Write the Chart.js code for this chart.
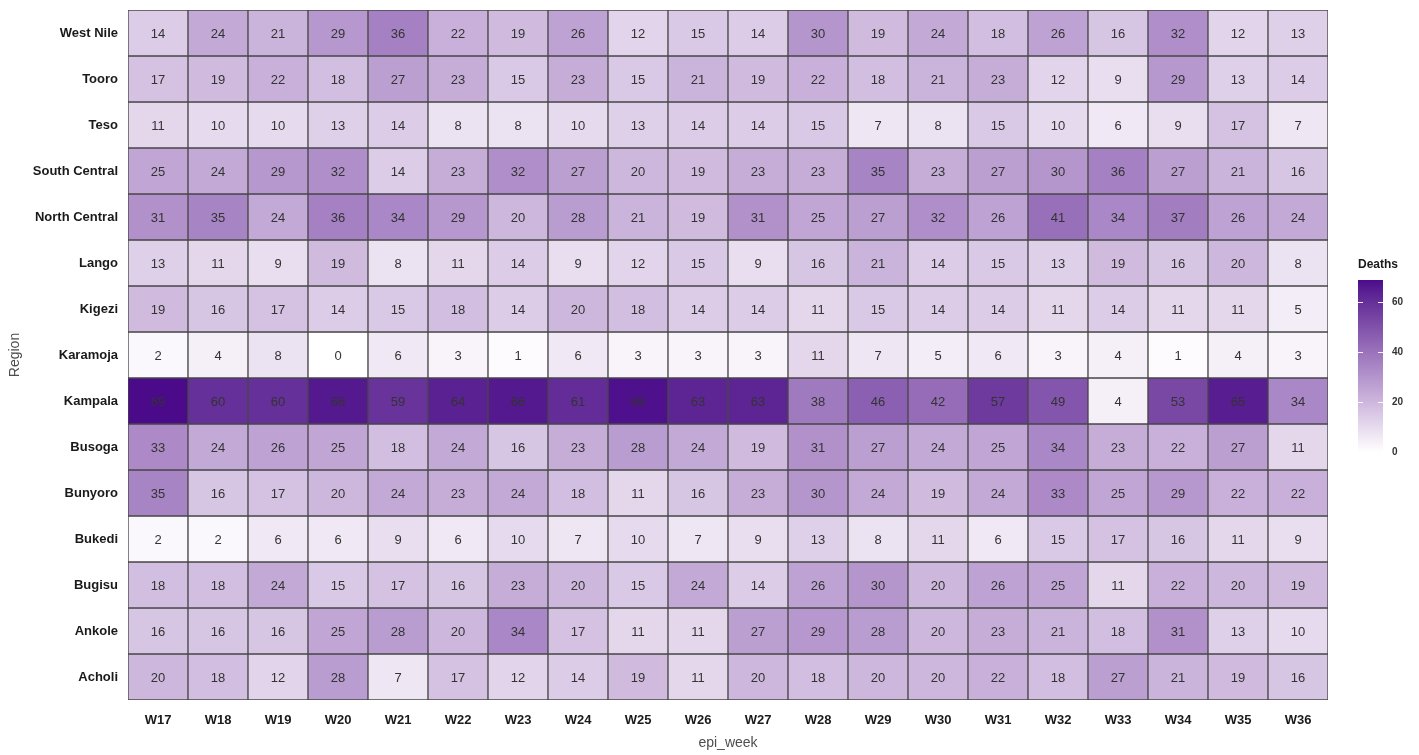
<!DOCTYPE html>
<html>
<head>
<meta charset="utf-8">
<title>Deaths by region and epi week</title>
<script src="https://cdn.jsdelivr.net/npm/chart.js@4.4.1/dist/chart.umd.min.js"></script>
<style>
  html, body { margin: 0; padding: 0; background: #ffffff; }
  #wrap { width: 1419px; height: 755px; position: relative; }
</style>
</head>
<body>
<div id="wrap"><canvas id="heat" width="1419" height="755"></canvas></div>
<script>
// Epi weeks along the x axis
const weeks = ['W17','W18','W19','W20','W21','W22','W23','W24','W25','W26',
               'W27','W28','W29','W30','W31','W32','W33','W34','W35','W36'];

// Regions, listed top to bottom
const regions = ['West Nile','Tooro','Teso','South Central','North Central','Lango','Kigezi',
                 'Karamoja','Kampala','Busoga','Bunyoro','Bukedi','Bugisu','Ankole','Acholi'];

// Weekly deaths per region (W17 ... W36)
const westNile     = [14,24,21,29,36,22,19,26,12,15,14,30,19,24,18,26,16,32,12,13];
const tooro        = [17,19,22,18,27,23,15,23,15,21,19,22,18,21,23,12,9,29,13,14];
const teso         = [11,10,10,13,14,8,8,10,13,14,14,15,7,8,15,10,6,9,17,7];
const southCentral = [25,24,29,32,14,23,32,27,20,19,23,23,35,23,27,30,36,27,21,16];
const northCentral = [31,35,24,36,34,29,20,28,21,19,31,25,27,32,26,41,34,37,26,24];
const lango        = [13,11,9,19,8,11,14,9,12,15,9,16,21,14,15,13,19,16,20,8];
const kigezi       = [19,16,17,14,15,18,14,20,18,14,14,11,15,14,14,11,14,11,11,5];
const karamoja     = [2,4,8,0,6,3,1,6,3,3,3,11,7,5,6,3,4,1,4,3];
const kampala      = [69,60,60,66,59,64,66,61,68,63,63,38,46,42,57,49,4,53,65,34];
const busoga       = [33,24,26,25,18,24,16,23,28,24,19,31,27,24,25,34,23,22,27,11];
const bunyoro      = [35,16,17,20,24,23,24,18,11,16,23,30,24,19,24,33,25,29,22,22];
const bukedi       = [2,2,6,6,9,6,10,7,10,7,9,13,8,11,6,15,17,16,11,9];
const bugisu       = [18,18,24,15,17,16,23,20,15,24,14,26,30,20,26,25,11,22,20,19];
const ankole       = [16,16,16,25,28,20,34,17,11,11,27,29,28,20,23,21,18,31,13,10];
const acholi       = [20,18,12,28,7,17,12,14,19,11,20,18,20,20,22,18,27,21,19,16];

const deathsByRegion = [westNile, tooro, teso, southCentral, northCentral, lango, kigezi,
                        karamoja, kampala, busoga, bunyoro, bukedi, bugisu, ankole, acholi];

// Colour bar tick values
const legendTicks = [0, 20, 40, 60];

// ---- fill scale: white -> deep purple, interpolated in CIELAB ----
const FILL_LOW = '#FFFFFF';
const FILL_HIGH = '#4B0A8A';
const allValues = deathsByRegion.flat();
const valueMin = Math.min(...allValues);
const valueMax = Math.max(...allValues);

function hexToRgb(h) {
  const n = parseInt(h.slice(1), 16);
  return [(n >> 16) & 255, (n >> 8) & 255, n & 255];
}
function srgbToLin(c) { c /= 255; return c <= 0.04045 ? c / 12.92 : Math.pow((c + 0.055) / 1.055, 2.4); }
function linToSrgb(c) {
  const v = c <= 0.0031308 ? 12.92 * c : 1.055 * Math.pow(c, 1 / 2.4) - 0.055;
  return Math.max(0, Math.min(255, Math.round(v * 255)));
}
const WX = 0.95047, WY = 1.0, WZ = 1.08883;
function fLab(t) { return t > 0.008856 ? Math.cbrt(t) : 7.787 * t + 16 / 116; }
function fInv(t) { return t > 0.206893 ? t * t * t : (t - 16 / 116) / 7.787; }
function rgbToLab(rgb) {
  const [r, g, b] = rgb.map(srgbToLin);
  const x = (0.4124 * r + 0.3576 * g + 0.1805 * b) / WX;
  const y = (0.2126 * r + 0.7152 * g + 0.0722 * b) / WY;
  const z = (0.0193 * r + 0.1192 * g + 0.9505 * b) / WZ;
  const fx = fLab(x), fy = fLab(y), fz = fLab(z);
  return [116 * fy - 16, 500 * (fx - fy), 200 * (fy - fz)];
}
function labToRgb(lab) {
  const fy = (lab[0] + 16) / 116, fx = fy + lab[1] / 500, fz = fy - lab[2] / 200;
  const x = fInv(fx) * WX, y = fInv(fy) * WY, z = fInv(fz) * WZ;
  const r = 3.2406 * x - 1.5372 * y - 0.4986 * z;
  const g = -0.9689 * x + 1.8758 * y + 0.0415 * z;
  const b = 0.0557 * x - 0.2040 * y + 1.0570 * z;
  return [linToSrgb(r), linToSrgb(g), linToSrgb(b)];
}
const labLow = rgbToLab(hexToRgb(FILL_LOW));
const labHigh = rgbToLab(hexToRgb(FILL_HIGH));
function fillFor(v) {
  const t = Math.max(0, Math.min(1, (v - valueMin) / (valueMax - valueMin)));
  const lab = labLow.map((c, i) => c + (labHigh[i] - c) * t);
  const [r, g, b] = labToRgb(lab);
  return `rgb(${r},${g},${b})`;
}

const FONT = '"Liberation Sans", Arial, Helvetica, sans-serif';
Chart.defaults.font.family = FONT;

// One dataset per region: each week is a floating bar covering that region's row
const datasets = regions.map((name, r) => ({
  label: name,
  data: weeks.map(() => [r, r + 1]),
  deaths: deathsByRegion[r],
  backgroundColor: deathsByRegion[r].map(fillFor),
  borderColor: '#474747',
  borderWidth: 1,
  borderSkipped: false,
  grouped: false,
  barPercentage: 1,
  categoryPercentage: 1,
  yAxisID: 'y'
}));

// Writes the death count in the middle of each tile
const cellLabels = {
  id: 'cellLabels',
  afterDatasetsDraw(chart) {
    const ctx = chart.ctx;
    ctx.save();
    ctx.font = `13px ${FONT}`;
    ctx.fillStyle = '#333333';
    ctx.textAlign = 'center';
    ctx.textBaseline = 'middle';
    chart.data.datasets.forEach((ds, di) => {
      const meta = chart.getDatasetMeta(di);
      meta.data.forEach((bar, i) => {
        ctx.fillText(String(ds.deaths[i]), bar.x, (bar.y + bar.base) / 2 + 1);
      });
    });
    ctx.restore();
  }
};

// Continuous colour bar legend on the right
const colorBar = {
  id: 'colorBar',
  afterDraw(chart) {
    const ctx = chart.ctx;
    const x0 = 1358, w = 25;
    const yTop = 280, yBottom = 452;
    const toY = v => yBottom - (v - valueMin) / (valueMax - valueMin) * (yBottom - yTop);
    ctx.save();
    for (let y = yTop; y < yBottom; y++) {
      const v = valueMin + (yBottom - y - 0.5) / (yBottom - yTop) * (valueMax - valueMin);
      ctx.fillStyle = fillFor(v);
      ctx.fillRect(x0, y, w, 1);
    }
    ctx.strokeStyle = 'rgba(255,255,255,0.9)';
    ctx.lineWidth = 1;
    ctx.font = `bold 10px ${FONT}`;
    ctx.fillStyle = '#333333';
    ctx.textAlign = 'left';
    ctx.textBaseline = 'middle';
    legendTicks.forEach(t => {
      const y = Math.round(toY(t)) + 0.5;
      ctx.beginPath();
      ctx.moveTo(x0, y); ctx.lineTo(x0 + 5, y);
      ctx.moveTo(x0 + w - 5, y); ctx.lineTo(x0 + w, y);
      ctx.stroke();
      ctx.fillText(String(t), x0 + w + 9, y);
    });
    ctx.font = `bold 12px ${FONT}`;
    ctx.fillStyle = '#1a1a1a';
    ctx.fillText('Deaths', x0, 265);
    ctx.restore();
  }
};

new Chart(document.getElementById('heat'), {
  type: 'bar',
  data: { labels: weeks, datasets },
  options: {
    responsive: false,
    animation: false,
    events: [],
    layout: { padding: { top: 10, right: 91, left: 0, bottom: 0 } },
    plugins: { legend: { display: false }, tooltip: { enabled: false } },
    scales: {
      x: {
        type: 'category',
        offset: true,
        grid: { display: false, drawTicks: false },
        border: { display: false },
        ticks: { padding: 13, color: '#1a1a1a', font: { size: 13, weight: 'bold' }, autoSkip: false, maxRotation: 0 },
        title: { display: true, text: 'epi_week', color: '#4d4d4d', font: { size: 14 }, padding: { top: 0, bottom: 3 } },
        afterFit(scale) { scale.height = 55; scale.paddingLeft = 0; scale.paddingRight = 0; }
      },
      y: {
        type: 'linear',
        reverse: true,
        min: 0,
        max: regions.length,
        display: false
      },
      y2: {
        type: 'category',
        axis: 'y',
        labels: regions,
        offset: true,
        position: 'left',
        grid: { display: false, drawTicks: false },
        border: { display: false },
        ticks: { padding: 10, color: '#1a1a1a', font: { size: 13, weight: 'bold' }, autoSkip: false },
        title: { display: true, text: 'Region', color: '#4d4d4d', font: { size: 14 }, padding: { top: 7, bottom: 0 } },
        afterFit(scale) { scale.width = 128; scale.paddingTop = 0; scale.paddingBottom = 0; }
      }
    }
  },
  plugins: [cellLabels, colorBar]
});
</script>
</body>
</html>
